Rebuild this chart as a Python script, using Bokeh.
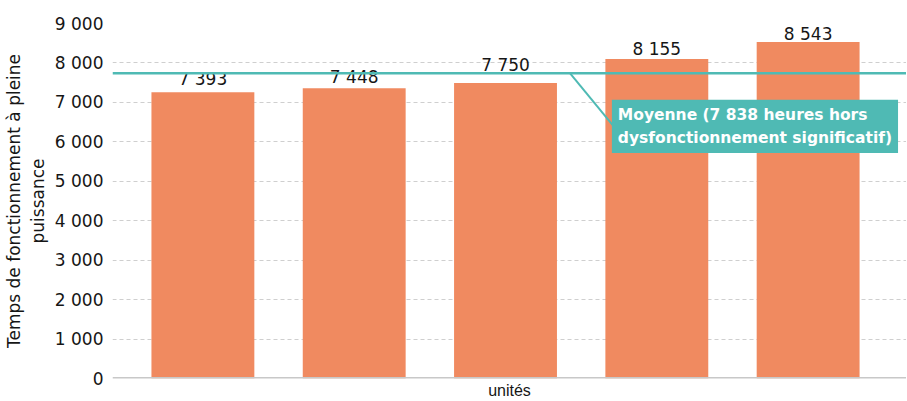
from bokeh.plotting import figure
from bokeh.models import Range1d, FixedTicker, Span, Label, Title, ColumnDataSource
from bokeh.core.properties import value
from bokeh.embed import file_html
from bokeh.resources import INLINE

# ---- data ----
units = ["Unité 1", "Unité 2", "Unité 3", "Unité 4", "Unité 5"]
bar_values = [7260, 7360, 7490, 8100, 8530]
label_values = [7393, 7448, 7750, 8155, 8543]
mean_line_value = 7740
mean_text = "Moyenne (7 838 heures hors\ndysfonctionnement significatif)"
y_ticks = [0, 1000, 2000, 3000, 4000, 5000, 6000, 7000, 8000, 9000]
y_tick_labels = ["0", "1 000", "2 000", "3 000", "4 000", "5 000", "6 000", "7 000", "8 000", "9 000"]
y_title = "Temps de fonctionnement à pleine\npuissance"
x_title = "unités"

FONT = "DejaVu Sans"
XFONT = "Liberation Sans"
BAR = "#F08A60"
TEAL = "#4FBAB4"
INK = "#161616"

xs = list(range(1, len(units) + 1))
src = ColumnDataSource(dict(
    x=xs,
    top=bar_values,
    ly=label_values,
    txt=[f"{v:,}".replace(",", " ") for v in label_values],
))

W, H = 906, 400
LEFT = 111
x0 = 0.4026
x1 = x0 + (W - LEFT) / 151.5
p = figure(width=W, height=H, x_range=Range1d(x0, x1), y_range=Range1d(0, 9000),
           output_backend="svg", toolbar_location=None, x_axis_location=None,
           min_border_left=LEFT, min_border_right=0, min_border_top=23, min_border_bottom=22)
p.outline_line_color = None
p.background_fill_color = "white"

p.xgrid.grid_line_color = None
p.ygrid.grid_line_color = "#cfcfcf"
p.ygrid.grid_line_dash = "4 3"
p.ygrid.grid_line_width = 1

p.vbar(x="x", top="top", width=0.68, source=src, fill_color=BAR, line_color=None)

p.text(x="x", y="ly", text="txt", source=src, text_align="center", text_baseline="middle",
       y_offset=-8, text_font=value(FONT), text_font_size="17px", text_color=INK)

# baseline (x axis line)
p.add_layout(Span(location=0, dimension="width", line_color="#c8c8c8", line_width=3))

# mean line
p.add_layout(Span(location=mean_line_value, dimension="width", line_color=TEAL, line_width=2.5))

# leader line to annotation box
def px_to_x(px):
    return x0 + (px - LEFT) / 151.5

p.segment(x0=[px_to_x(569)], y0=[mean_line_value], x1=[px_to_x(612)], y1=[6415],
          line_color=TEAL, line_width=2)

p.add_layout(Label(x=px_to_x(611), y=7070, text=mean_text, text_align="left", text_baseline="top",
                   text_font=FONT, text_font_size="15.5px", text_font_style="bold",
                   text_color="white", background_fill_color=TEAL, padding=6,
                   text_line_height=1.3))

# x axis title below the plot
p.add_layout(Title(text=x_title, align="center", offset=5, standoff=2,
                   text_font=XFONT, text_font_size="16px", text_font_style="normal",
                   text_color=INK), "below")

# y axis
ya = p.yaxis[0]
ya.ticker = FixedTicker(ticks=y_ticks)
ya.major_label_overrides = {t: l for t, l in zip(y_ticks, y_tick_labels)}
ya.axis_line_color = None
ya.major_tick_line_color = None
ya.minor_tick_line_color = None
ya.major_tick_out = 0
ya.major_label_standoff = 9
ya.major_label_text_font = FONT
ya.major_label_text_font_size = "17px"
ya.major_label_text_color = INK
ya.axis_label = y_title
ya.axis_label_text_font = FONT
ya.axis_label_text_font_size = "17px"
ya.axis_label_text_font_style = "normal"
ya.axis_label_text_color = INK
ya.axis_label_standoff = 4

open("out.html", "w").write(file_html(p, INLINE))
